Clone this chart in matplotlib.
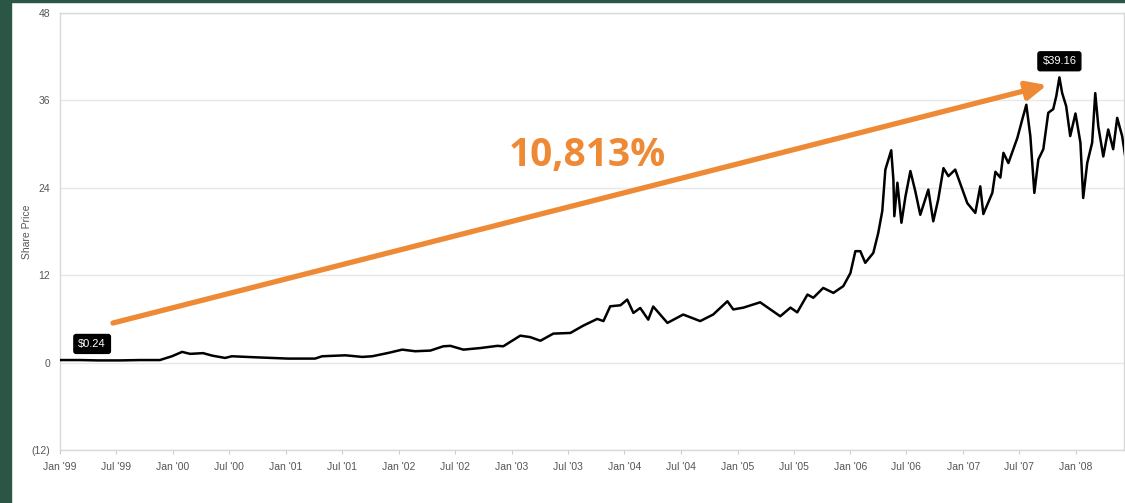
import matplotlib
matplotlib.use("Agg")
import matplotlib.pyplot as plt
import matplotlib.dates as mdates
import pandas as pd
from matplotlib.patches import Rectangle

# share price
dates = [
    "1999-01-01", "1999-03-07", "1999-05-04", "1999-07-14", "1999-09-17", "1999-11-20",
    "1999-12-29", "2000-01-31", "2000-02-26", "2000-04-08", "2000-05-07", "2000-06-18",
    "2000-07-10", "2000-09-23", "2001-01-08", "2001-04-05", "2001-04-28", "2001-07-12",
    "2001-09-05", "2001-10-07", "2001-11-28", "2002-01-12", "2002-02-23", "2002-04-13",
    "2002-05-25", "2002-06-17", "2002-07-29", "2002-09-22", "2002-11-16", "2002-12-05",
    "2003-01-29", "2003-03-02", "2003-04-04", "2003-05-16", "2003-07-10", "2003-08-21",
    "2003-10-05", "2003-10-25", "2003-11-16", "2003-12-19", "2004-01-10", "2004-01-30",
    "2004-02-21", "2004-03-18", "2004-04-03", "2004-05-19", "2004-07-09", "2004-09-02",
    "2004-10-14", "2004-11-29", "2004-12-18", "2005-01-20", "2005-03-15", "2005-05-19",
    "2005-06-21", "2005-07-13", "2005-08-15", "2005-09-03", "2005-10-05", "2005-11-07",
    "2005-12-09", "2006-01-01", "2006-01-17", "2006-02-02", "2006-02-18", "2006-03-16",
    "2006-04-01", "2006-04-14", "2006-04-24", "2006-05-13", "2006-05-20", "2006-05-23",
    "2006-06-02", "2006-06-15", "2006-06-28", "2006-07-14", "2006-07-30", "2006-08-15",
    "2006-09-10", "2006-09-26", "2006-10-12", "2006-10-29", "2006-11-14", "2006-12-06",
    "2007-01-14", "2007-02-09", "2007-02-25", "2007-03-07", "2007-04-05", "2007-04-15",
    "2007-05-01", "2007-05-11", "2007-05-27", "2007-06-25", "2007-07-11", "2007-07-24",
    "2007-08-06", "2007-08-19", "2007-09-01", "2007-09-17", "2007-10-03", "2007-10-19",
    "2007-10-29", "2007-11-08", "2007-11-17", "2007-11-30", "2007-12-13", "2007-12-30",
    "2008-01-15", "2008-01-24", "2008-02-06", "2008-02-22", "2008-03-03", "2008-03-13",
    "2008-03-29", "2008-04-14", "2008-04-30", "2008-05-13", "2008-05-29", "2008-06-08",
]
prices = [
    0.35, 0.35, 0.30, 0.30, 0.35, 0.35,
    0.87, 1.47, 1.20, 1.30, 0.96, 0.64,
    0.87, 0.73, 0.55, 0.55, 0.87, 1.00,
    0.78, 0.87, 1.33, 1.78, 1.56, 1.65,
    2.24, 2.30, 1.78, 2.00, 2.30, 2.24,
    3.70, 3.50, 3.00, 3.98, 4.07, 5.08,
    6.00, 5.70, 7.73, 7.87, 8.65, 6.82,
    7.50, 5.90, 7.70, 5.45, 6.60, 5.70,
    6.60, 8.42, 7.30, 7.55, 8.28, 6.36,
    7.55, 6.90, 9.34, 8.90, 10.25, 9.57,
    10.50, 12.30, 15.30, 15.30, 13.70, 15.06,
    17.80, 20.80, 26.50, 29.15, 25.10, 20.10,
    24.70, 19.20, 22.80, 26.30, 23.50, 20.30,
    23.75, 19.40, 22.40, 26.70, 25.60, 26.50,
    21.90, 20.55, 24.20, 20.40, 23.30, 26.20,
    25.40, 28.80, 27.40, 30.85, 33.40, 35.40,
    31.10, 23.30, 27.90, 29.30, 34.30, 34.80,
    36.60, 39.16, 37.00, 35.20, 31.10, 34.20,
    30.20, 22.60, 27.40, 30.20, 37.00, 32.40,
    28.30, 32.00, 29.30, 33.60, 31.10, 28.30,
]
yticks = [-12, 0, 12, 24, 36, 48]
ytick_labels = ["(12)", "0", "12", "24", "36", "48"]
start_label = ("1999-04-15", 0.35, "$0.24")
peak_label = ("2007-11-08", 39.16, "$39.16")
growth_text = "10,813%"

dates = pd.to_datetime(dates)

W, H = 1125, 503
fig = plt.figure(figsize=(W / 100, H / 100), dpi=100)
fig.patch.set_facecolor("white")
green = "#2b5646"
fig.add_artist(Rectangle((0, 0), 11 / W, 1, transform=fig.transFigure, color=green, zorder=0))
fig.add_artist(Rectangle((0, 1 - 1.5 / H), 1, 1.5 / H, transform=fig.transFigure, color=green, zorder=0))

ax = fig.add_axes([60 / W, 1 - 450 / H, 1064 / W, 437 / H])
ax.plot(dates, prices, color="black", lw=1.8, zorder=3)

ax.set_xlim(pd.Timestamp("1999-01-01"), pd.Timestamp("2008-06-04"))
ax.set_ylim(-12, 48)

tick_font = ["Liberation Sans Narrow", "Liberation Sans", "DejaVu Sans"]
ax.set_yticks(yticks)
ax.set_yticklabels(ytick_labels, family=tick_font, fontsize=7.5, color="#555555")
ax.xaxis.set_major_locator(mdates.MonthLocator(bymonth=[1, 7]))
ax.xaxis.set_major_formatter(mdates.DateFormatter("%b '%y"))
for lab in ax.get_xticklabels():
    lab.set_family(tick_font)
    lab.set_fontsize(7.5)
    lab.set_color("#555555")
ax.tick_params(axis="x", length=3, color="#cccccc", pad=6)
ax.tick_params(axis="y", length=0, pad=7)

ax.grid(axis="y", color="#e8e8e8", lw=1)
ax.set_axisbelow(True)
for s in ax.spines.values():
    s.set_color("#d8d8d8")
    s.set_linewidth(1)

ax.set_ylabel("Share Price", family=["Liberation Sans", "DejaVu Sans"], fontsize=7.5,
              color="#555555")
ax.yaxis.set_label_coords(-0.026, 0.5)

box = dict(boxstyle="round,pad=0.4,rounding_size=0.2", fc="black", ec="black")
for d, p, txt in (start_label, peak_label):
    ax.annotate(txt, (pd.Timestamp(d), p), xytext=(0, 8), textcoords="offset points",
                ha="center", va="bottom", color="white", fontsize=8,
                family=tick_font, bbox=box, zorder=5)

orange = "#ee8a35"
ax.annotate("", xy=(0.9276, 0.835), xytext=(0.0498, 0.2906), xycoords="axes fraction",
            arrowprops=dict(arrowstyle="-|>,head_length=1.2,head_width=0.55",
                            color=orange, lw=3.8, shrinkA=0, shrinkB=0), zorder=4)
ax.text(0.4953, 0.673, growth_text, transform=ax.transAxes, ha="center", va="center",
        color=orange, fontsize=28, fontweight="bold", family=["Open Sans", "DejaVu Sans"])

fig.savefig("out.png", dpi=100)
